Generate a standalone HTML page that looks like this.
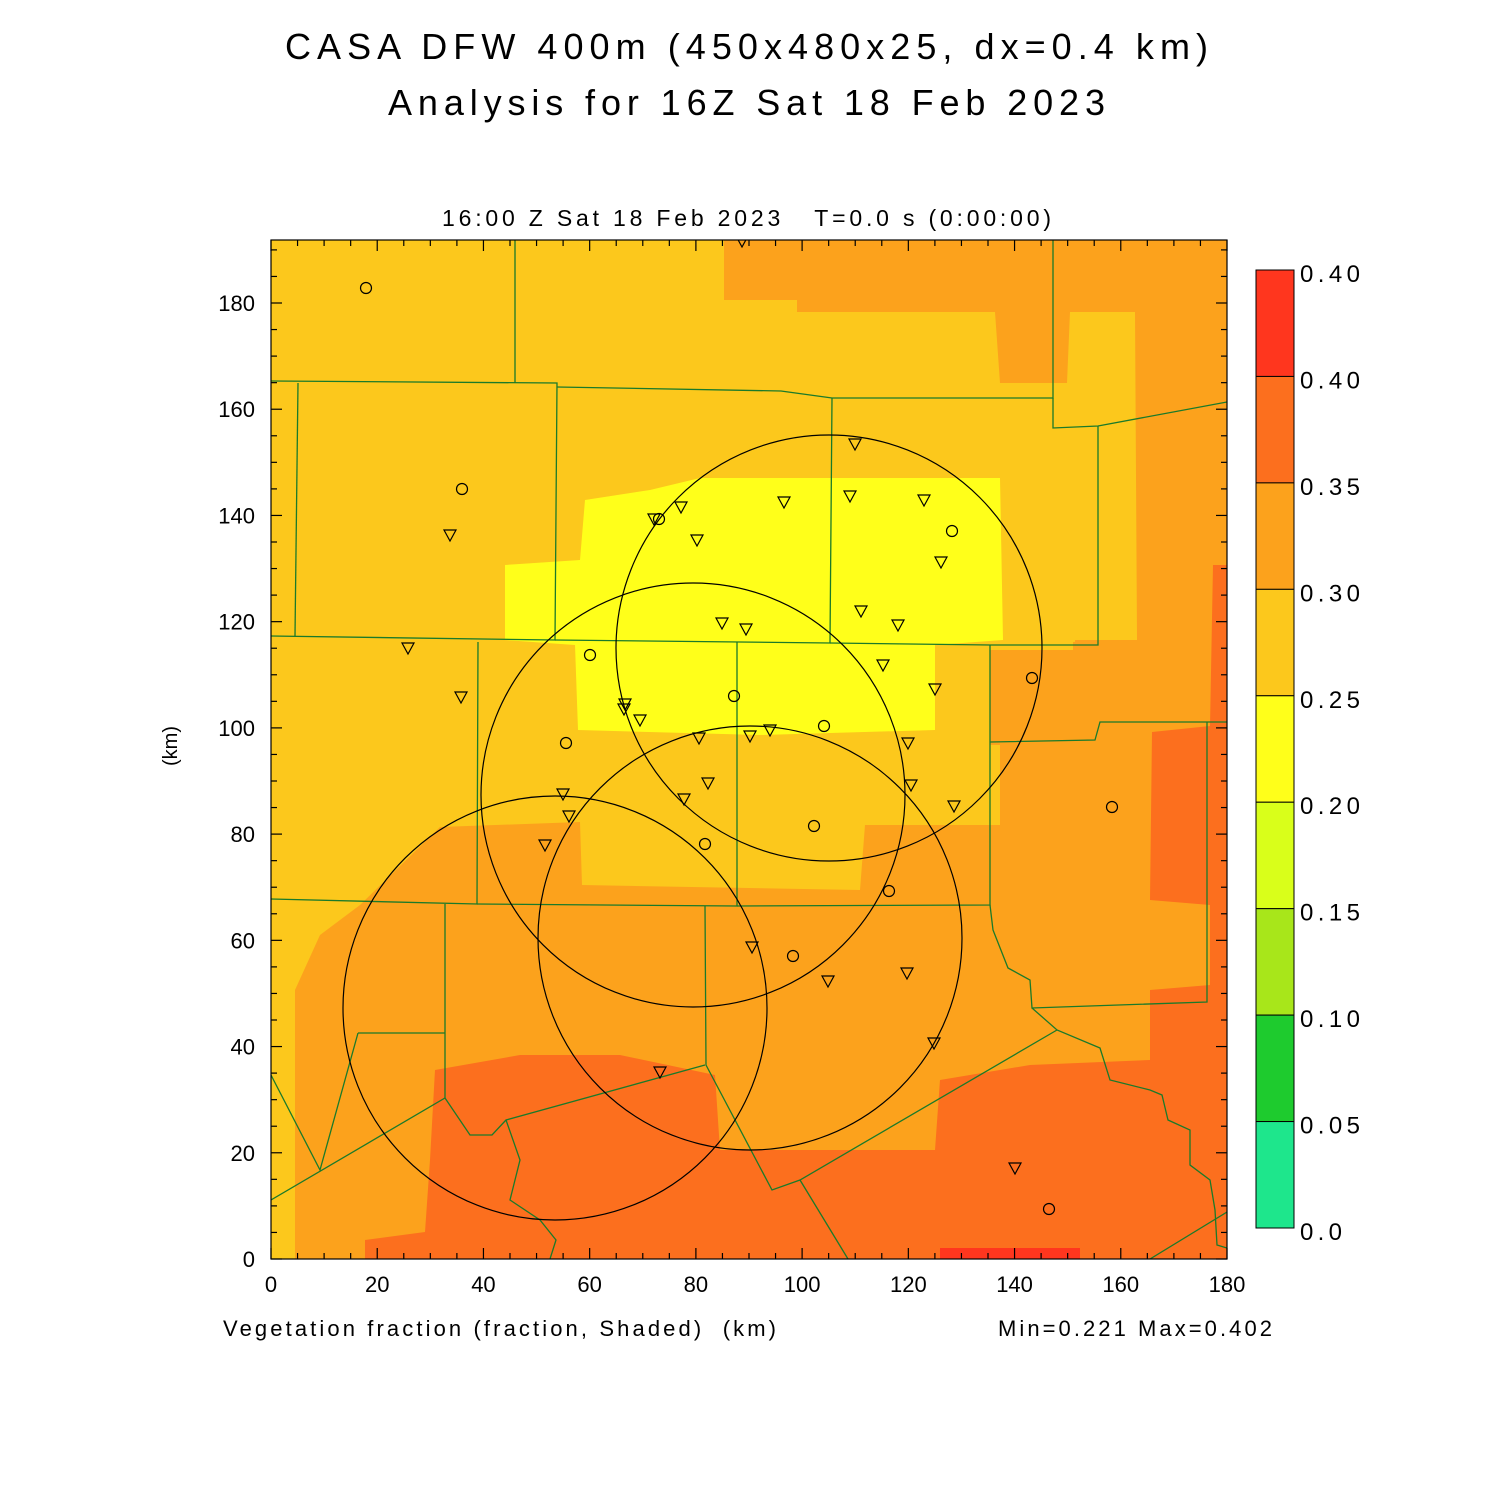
<!DOCTYPE html>
<html><head><meta charset="utf-8"><style>
body{margin:0;background:#fff;}
svg text{font-family:"Liberation Sans",sans-serif;fill:#000;}
</style></head><body>
<svg id="s" width="1500" height="1500" xmlns="http://www.w3.org/2000/svg">
<rect width="1500" height="1500" fill="#fff"/>
<text x="285" y="59" font-size="36" textLength="923" lengthAdjust="spacing">CASA DFW 400m (450x480x25, dx=0.4 km)</text>
<text x="388" y="115" font-size="36" textLength="717" lengthAdjust="spacing">Analysis for 16Z Sat 18 Feb 2023</text>
<text x="442" y="226" font-size="23" textLength="609" lengthAdjust="spacing">16:00 Z Sat 18 Feb 2023 &#160; T=0.0 s (0:00:00)</text>
<clipPath id="c"><rect x="271" y="240" width="956" height="1019"/></clipPath>
<g clip-path="url(#c)">
<rect x="271" y="240" width="956" height="1019" fill="#FCC81C"/>
<polygon fill="#FCA21C" points="724,240 1227,240 1227,650 1073,650 1073,642 1137,640 1135,312 1070,312 1067,383 1000,383 995,312 797,312 797,300 724,300"/>
<polygon fill="#FCA21C" points="295,1259 295,990 320,935 360,905 440,827 580,822 582,885 860,890 865,825 1000,825 1000,745 990,745 990,650 1075,650 1075,640 1227,640 1227,1259"/>
<polygon fill="#FC6F1E" points="365,1259 365,1240 425,1232 430,1160 435,1070 520,1055 620,1055 715,1075 720,1150 935,1150 940,1080 1030,1065 1150,1060 1150,990 1210,985 1210,905 1150,900 1152,732 1210,726 1213,565 1227,565 1227,1259"/>
<polygon fill="#FF361E" points="940,1259 940,1248 1080,1248 1080,1259"/>
<polygon fill="#FFFF1A" points="505,565 580,560 585,500 650,490 700,478 1000,478 1003,640 935,645 935,730 760,735 578,730 575,645 505,640"/>
<g fill="none" stroke="#1a7a2a" stroke-width="1.3">
<polyline points="271,381 557,383 555,640 271,636"/>
<polyline points="515,240 515,383"/>
<polyline points="557,387 781,391 832,398 1053,398 1053,240"/>
<polyline points="832,398 830,643 555,640"/>
<polyline points="298,383 295,636"/>
<polyline points="1053,398 1053,428 1098,426 1227,402"/>
<polyline points="1098,426 1098,645 990,645 830,643"/>
<polyline points="478,642 477,904 271,899"/>
<polyline points="737,642 737,906 477,904"/>
<polyline points="990,645 990,905 737,906"/>
<polyline points="990,742 1095,740 1100,722 1227,722"/>
<polyline points="1207,722 1207,1002 1032,1008 1030,980 1008,968 993,930 990,905"/>
<polyline points="1032,1008 1057,1030 1100,1048 1110,1080 1150,1090 1162,1095 1168,1120 1190,1130 1190,1165 1210,1180 1215,1210 1217,1245 1227,1248"/>
<polyline points="705,906 706,1065 772,1190 800,1180 1057,1030"/>
<polyline points="800,1180 848,1259"/>
<polyline points="271,1200 445,1098 470,1135 492,1135 506,1120 705,1065"/>
<polyline points="445,1098 445,904"/>
<polyline points="358,1033 445,1033"/>
<polyline points="271,1075 320,1170 358,1033"/>
<polyline points="506,1120 520,1160 510,1200 540,1220 556,1240 550,1259"/>
<polyline points="1150,1259 1227,1212"/>
</g>
<g fill="none" stroke="#000" stroke-width="1.2">
<circle cx="829" cy="648" r="213"/>
<circle cx="693" cy="795" r="212"/>
<circle cx="750" cy="938" r="212"/>
<circle cx="555" cy="1008" r="212"/>
</g>
<g id="mk" fill="none" stroke="#000" stroke-width="1.2"></g>
</g>
<rect x="271" y="240" width="956" height="1019" fill="none" stroke="#000" stroke-width="1.2"/>
<g id="tk" stroke="#000" stroke-width="1.2"></g>
<g id="lb" font-size="22"></g>
<text x="177" y="746" font-size="20" text-anchor="middle" transform="rotate(-90 177 746)">(km)</text>
<text x="223" y="1336" font-size="22" textLength="553" lengthAdjust="spacing">Vegetation fraction (fraction, Shaded) &#160;(km)</text>
<text x="998" y="1336" font-size="22" textLength="274" lengthAdjust="spacing">Min=0.221 Max=0.402</text>
<g id="cb"></g>
</svg>
<script>
var NS="http://www.w3.org/2000/svg";
function el(p,t,a,txt){var e=document.createElementNS(NS,t);for(var k in a)e.setAttribute(k,a[k]);if(txt!=null)e.textContent=txt;document.getElementById(p).appendChild(e);}
var sx=956/180;
for(var v=0;v<=180;v+=5){var x=271+v*sx,L=v%20==0?11:6;
el("tk","line",{x1:x,y1:1259,x2:x,y2:1259-L});el("tk","line",{x1:x,y1:240,x2:x,y2:240+L});}
for(var v=0;v<=190;v+=5){var y=1259-v*sx,L=v%20==0?11:6;
el("tk","line",{x1:271,y1:y,x2:271+L,y2:y});el("tk","line",{x1:1227,y1:y,x2:1227-L,y2:y});}
for(var v=0;v<=180;v+=20){el("lb","text",{x:271+v*sx,y:1292,"text-anchor":"middle"},""+v);
el("lb","text",{x:255,y:1259-v*sx+8,"text-anchor":"end"},""+v);}
var tri=[[742,241],[450,535],[408,648],[461,697],[563,794],[569,816],[545,845],[625,704],[624,709],[640,720],[654,519],[681,507],[697,540],[722,623],[746,629],[784,502],[850,496],[855,444],[924,500],[941,562],[861,611],[898,625],[883,665],[935,689],[699,738],[750,736],[770,730],[908,743],[708,783],[684,799],[911,785],[954,806],[752,947],[660,1072],[828,981],[907,973],[934,1043],[1015,1168]];
tri.forEach(function(p){el("mk","polygon",{points:(p[0]-6)+","+(p[1]-5)+" "+(p[0]+6)+","+(p[1]-5)+" "+p[0]+","+(p[1]+6)});});
var cir=[[366,288],[462,489],[659,519],[952,531],[590,655],[566,743],[734,696],[824,726],[1032,678],[814,826],[705,844],[889,891],[793,956],[1112,807],[1049,1209]];
cir.forEach(function(p){el("mk","circle",{cx:p[0],cy:p[1],r:5.5});});
var cols=["#FF361E","#FC6F1E","#FCA21C","#FCC81C","#FFFF1A","#D9FF1A","#A8E61A","#1ECB2E","#1EE68C"];
var labs=["0.40","0.40","0.35","0.30","0.25","0.20","0.15","0.10","0.05","0.0"];
var h=(1228-270)/9;
for(var i=0;i<9;i++){el("cb","rect",{x:1256,y:270+i*h,width:38,height:h,fill:cols[i],stroke:"#000","stroke-width":1});}
for(var i=0;i<10;i++){el("cb","text",{x:1300,y:270+i*h+12,"font-size":"24",textLength:(i==9?42:60),lengthAdjust:"spacing"},labs[i]);}
</script>
</body></html>
